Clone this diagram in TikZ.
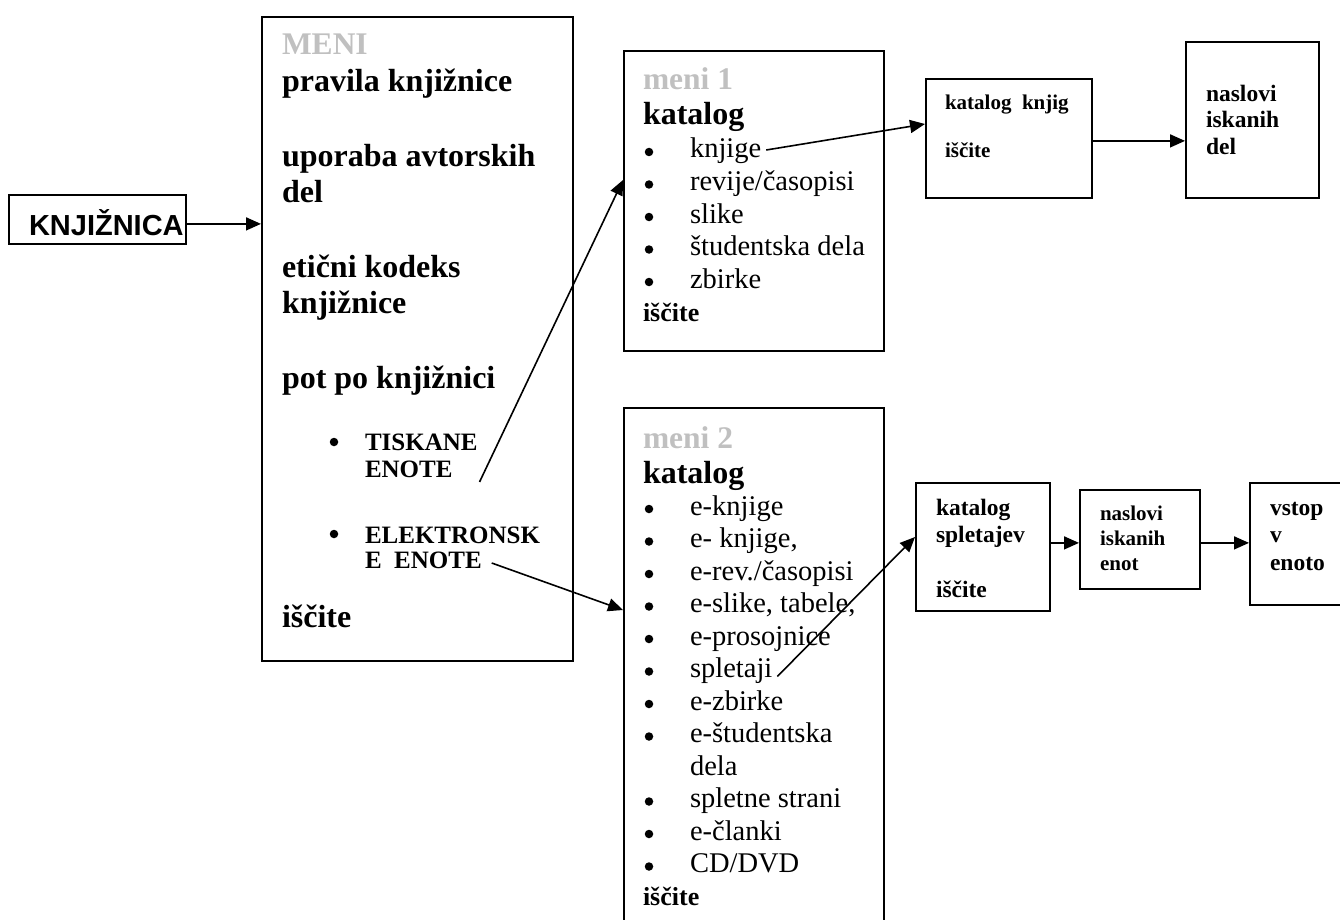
\documentclass[tikz,border=0pt]{standalone}
\usepackage{fontspec}
\setmainfont{Liberation Serif}
\newfontfamily\arialfont{Liberation Sans}
\usetikzlibrary{arrows.meta}
\definecolor{ttlgray}{RGB}{192,192,192}
\newcommand{\fs}[1]{\fontsize{#1}{#1}\selectfont}
\tikzset{
  box/.style={draw, line width=1.8pt, inner sep=0pt, anchor=north west},
  txt/.style={anchor=base west, inner sep=0pt, outer sep=0pt},
  ttl/.style={txt, font=\fs{31.5}\bfseries, text=ttlgray},
  big/.style={txt, font=\fs{32}\bfseries},
  itm/.style={txt, font=\fs{28.5}},
  sml/.style={txt, font=\fs{25}\bfseries},
  smb/.style={txt, font=\fs{21}\bfseries},
  mdb/.style={txt, font=\fs{23.5}\bfseries},
  bul/.style={circle, fill, inner sep=0pt, minimum size=8.5pt},
  arr/.style={line width=1.6pt, -{Triangle[length=15pt,width=13pt]}},
}
\begin{document}
\begin{tikzpicture}[x=1pt,y=-1pt]
\useasboundingbox (0,0) rectangle (1340,920);
\clip (0,0) rectangle (1340,920);

% boxes
\node[box, minimum width=177pt, minimum height=49pt] (knjbox) at (8,194) {};
\node[box, minimum width=311pt, minimum height=644pt] (meni) at (261,16) {};
\node[box, minimum width=260pt, minimum height=300pt] (meni1) at (623,50) {};
\node[box, minimum width=260pt, minimum height=540pt] (meni2) at (623,407) {};
\node[box, minimum width=166pt, minimum height=119pt] (kk) at (925,78) {};
\node[box, minimum width=133pt, minimum height=156pt] (nd) at (1185,41) {};
\node[box, minimum width=134pt, minimum height=128pt] (ks) at (915,482) {};
\node[box, minimum width=120pt, minimum height=99pt] (ne) at (1079,489) {};
\node[box, minimum width=130pt, minimum height=122pt] (ve) at (1249,482) {};

% KNJIZNICA
\node[txt, font=\fs{29}\arialfont\bfseries] (knj) at (29,235) {KNJIŽNICA};

% MENI
\node[ttl] (mt) at (282,55) {MENI};
\node[big] (m1) at (282,92) {pravila knjižnice};
\node[big] (m2) at (282,167) {uporaba avtorskih};
\node[big] (m3) at (282,203) {del};
\node[big] (m4) at (282,277) {etični kodeks};
\node[big] (m5) at (282,313) {knjižnice};
\node[big] (m6) at (282,388) {pot po knjižnici};
\node[bul] (b1) at (334,442) {};
\node[sml] (tisk) at (365,450) {TISKANE};
\node[sml] (enote1) at (365,477) {ENOTE};
\node[bul] (b2) at (334,534) {};
\node[sml] (elek) at (365,543) {ELEKTRONSK};
\node[sml] (enote2) at (365,568) {E\ \ ENOTE};
\node[big] (m7) at (282,627) {iščite};

% meni 1
\node[ttl] (t1) at (643,90) {meni 1};
\node[big] (k1) at (643,125) {katalog};
\foreach \y/\t/\n in {158/knjige/a1, 190.5/revije\slash časopisi/a2, 223/slike/a3, 255.5/študentska dela/a4, 288/zbirke/a5}{
  \node[bul] (\n b) at (649,{\y-6}) {};
  \node[itm] (\n) at (690,\y) {\t};
}
\node[txt, font=\fs{26}\bfseries] (i1) at (643,321) {iščite};

% meni 2
\node[ttl] (t2) at (643,448) {meni 2};
\node[big] (k2) at (643,483) {katalog};
\foreach \y/\t/\n in {515/e-knjige/c1, 547.5/e- knjige{,}/c2, 580/e-rev.\slash časopisi/c3, 612.5/{e-slike, tabele,}/c4, 645/e-prosojnice/c5, 677.5/spletaji/c6, 710/e-zbirke/c7, 742.5/e-študentska/c8, 807.5/spletne strani/c10, 840/e-članki/c11, 872.5/CD\slash DVD/c12}{
  \node[bul] (\n b) at (649,{\y-6}) {};
  \node[itm] (\n) at (690,\y) {\t};
}
\node[itm] (c9) at (690,775) {dela};
\node[txt, font=\fs{26}\bfseries] (i2) at (643,905) {iščite};

% right boxes text
\node[smb] (kk1) at (945,110) {katalog\ \ knjig};
\node[smb] (kk2) at (945,158) {iščite};
\node[mdb] (nd1) at (1206,102) {naslovi};
\node[mdb] (nd2) at (1206,128) {iskanih};
\node[mdb] (nd3) at (1206,155) {del};
\node[mdb] (ks1) at (936,515) {katalog};
\node[mdb] (ks2) at (936,542) {spletajev};
\node[mdb] (ks3) at (936,597) {iščite};
\node[smb] (ne1) at (1100,520) {naslovi};
\node[smb] (ne2) at (1100,545) {iskanih};
\node[smb] (ne3) at (1100,570) {enot};
\node[mdb] (ve1) at (1270,515) {vstop};
\node[mdb] (ve2) at (1270,542) {v};
\node[mdb] (ve3) at (1270,570) {enoto};

% connectors
\draw[arr] ([yshift=-4.5pt]knjbox.east) -- ([yshift=-4.5pt]knjbox.east -| meni.west);
\draw[arr] ([yshift=-2.5pt]kk.east) -- ([yshift=-2.5pt]kk.east -| nd.west);
\draw[arr] ([yshift=4pt]ks.east) -- ([yshift=4pt]ks.east -| ne.west);
\draw[arr] ([yshift=-3.5pt]ne.east) -- ([yshift=-3.5pt]ne.east -| ve.west);
\draw[arr] ([xshift=27pt,yshift=-5pt]enote1.base east) -- ([yshift=-130pt]meni1.north west);
\draw[arr] ([xshift=10pt,yshift=5pt]enote2.base east) -- ([yshift=-203pt]meni2.north west);
\draw[arr] ([xshift=5pt,yshift=8pt]a1.base east) -- ([yshift=-46pt]kk.north west);
\draw[arr] ([xshift=5pt,yshift=1pt]c6.base east) -- ([yshift=-55pt]ks.north west);
\end{tikzpicture}
\end{document}
